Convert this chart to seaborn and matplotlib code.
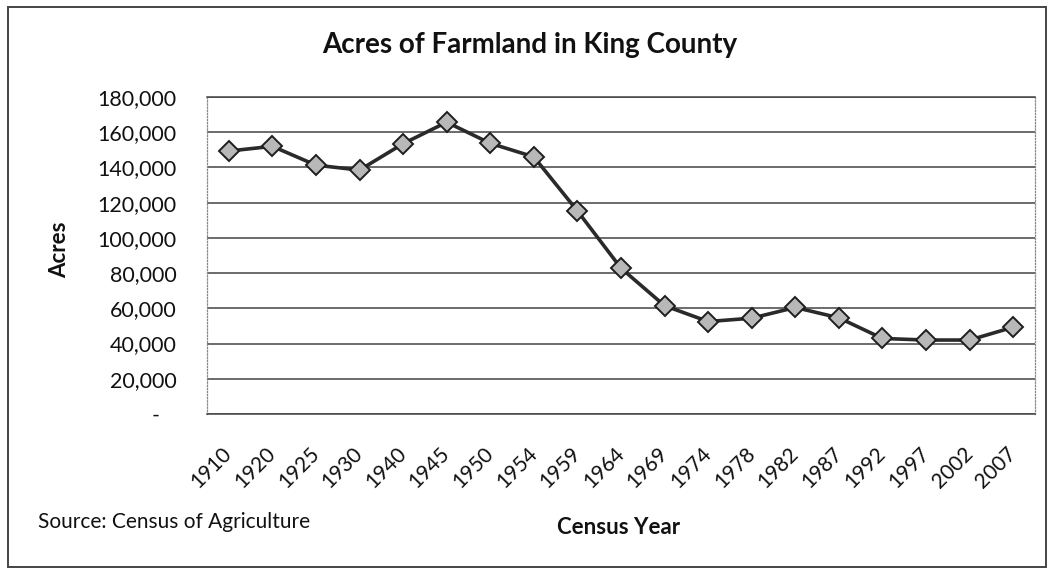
import matplotlib
matplotlib.use("Agg")
import matplotlib.pyplot as plt
import seaborn as sns
import pandas as pd
from matplotlib.ticker import FuncFormatter
from matplotlib.patches import Rectangle

years = ["1910", "1920", "1925", "1930", "1940", "1945", "1950", "1954", "1959", "1964",
         "1969", "1974", "1978", "1982", "1987", "1992", "1997", "2002", "2007"]
acres = [149300, 152000, 141300, 138500, 153500, 165700, 153700, 146000, 115300, 82800,
         61500, 52500, 54400, 60500, 54600, 42900, 42000, 42000, 49300]
y_ticks = [0, 20000, 40000, 60000, 80000, 100000, 120000, 140000, 160000, 180000]

title = "Acres of Farmland in King County"
source = "Source: Census of Agriculture"

sns.set_style("white")
plt.rcParams['font.family'] = ['Lato', 'DejaVu Sans']

dados = pd.DataFrame({"Ano": years, "Acres": acres})

fig = plt.figure(figsize=(10.5, 5.7), dpi=100)
ax = fig.add_axes([207 / 1050, 1 - 414 / 570, (1035 - 207) / 1050, (414 - 97) / 570])

sns.pointplot(data=dados, x="Ano", y="Acres", color="#2a2a2a", marker="D",
              markersize=10.5, linewidth=2.6, errorbar=None, ax=ax)
for ln in ax.lines:
    ln.set_markerfacecolor("#b8b8b8")
    ln.set_markeredgecolor("#1e1e1e")
    ln.set_markeredgewidth(1.4)
    ln.set_zorder(3)

ax.set_ylim(0, 180000)
ax.set_xlim(-0.5, len(years) - 0.5)
ax.set_yticks(y_ticks)
ax.yaxis.set_major_formatter(FuncFormatter(lambda v, p: "-   " if v == 0 else f"{int(v):,}"))
ax.grid(axis="y", color="#444444", linewidth=1.1)
ax.grid(axis="x", visible=False)
ax.set_axisbelow(True)

for s in ["left", "right"]:
    ax.spines[s].set_color("#888888")
    ax.spines[s].set_linestyle((0, (1, 1.5)))
    ax.spines[s].set_linewidth(0.9)
ax.spines["top"].set_color("#444444")
ax.spines["bottom"].set_color("#444444")
ax.spines["bottom"].set_linewidth(1.1)
ax.spines["top"].set_linewidth(1.1)

ax.tick_params(axis="y", length=0, pad=22, labelsize=15.5, labelcolor="#111111")
ax.tick_params(axis="x", length=0, pad=26, labelsize=15, labelcolor="#111111")
for lbl in ax.get_xticklabels():
    lbl.set_rotation(45)
    lbl.set_ha("right")
    lbl.set_va("center")
    lbl.set_rotation_mode("anchor")

ax.set_xlabel("")
ax.set_ylabel("")
fig.text(619 / 1050, 1 - 528 / 570, "Census Year", ha="center", va="center",
         fontsize=16, fontweight="bold", color="#111111")
fig.text(60 / 1050, 1 - 250 / 570, "Acres", ha="center", va="center", rotation=90,
         fontsize=16, fontweight="bold", color="#111111")
fig.text(530 / 1050, 1 - 45 / 570, title, ha="center", va="center",
         fontsize=20, fontweight="bold", color="#111111")
fig.text(38 / 1050, 1 - 522 / 570, source, ha="left", va="center",
         fontsize=15, color="#111111")

fig.patches.append(Rectangle((8 / 1050, 1 - 567 / 570), 1038 / 1050, 560 / 570,
                             transform=fig.transFigure, fill=False,
                             edgecolor="#444444", linewidth=1.4))

fig.savefig("out.png", dpi=100)
